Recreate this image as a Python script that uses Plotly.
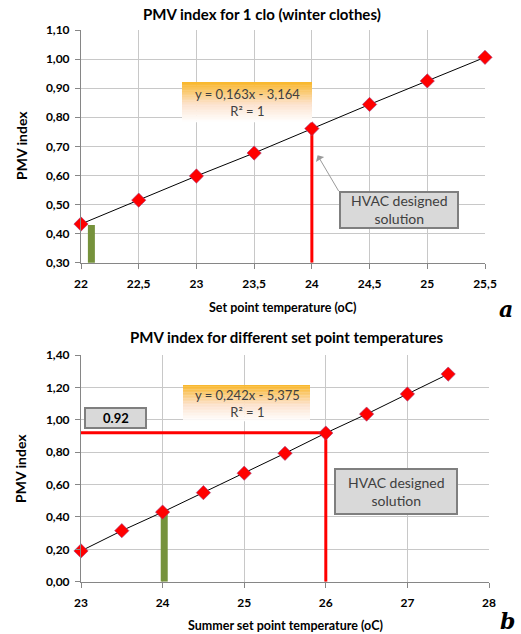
import plotly.graph_objects as go

W, H = 521, 634

# ---------------- data ----------------
temp_a = [22, 22.5, 23, 23.5, 24, 24.5, 25, 25.5]
pmv_a = [0.433, 0.515, 0.598, 0.677, 0.761, 0.844, 0.925, 1.006]
green_a_x = [22.09, 22.09]
green_a_y = [0.285, 0.43]
design_a_x = 24
design_a_y = 0.761

temp_b = [23, 23.5, 24, 24.5, 25, 25.5, 26, 26.5, 27, 27.5]
pmv_b = [0.19, 0.315, 0.43, 0.55, 0.67, 0.793, 0.918, 1.035, 1.159, 1.282]
green_b_x = [24.02, 24.02]
green_b_y = [0.0, 0.44]
design_b_x = 26
design_b_y = 0.92

title_a = "PMV index for 1 clo (winter clothes)"
title_b = "PMV index for different set point temperatures"
xtitle_a = "Set point temperature (oC)"
xtitle_b = "Summer set point temperature (oC)"
ytitle = "PMV index"
eq_a = "y = 0,163x - 3,164<br>R² = 1"
eq_b = "y = 0,242x - 5,375<br>R² = 1"
hvac_text = "HVAC designed<br>solution"
label_b_value = "0.92"

FONT = "Lato"
RED = "#ff0000"
GREEN = "#76923c"
GRID = "#c8c8c8"

fig = go.Figure()

def add_series(x, y, xa, ya):
    fig.add_trace(go.Scatter(x=x, y=y, mode="lines", xaxis=xa, yaxis=ya,
                             line=dict(color="#000000", width=1), showlegend=False))
    fig.add_trace(go.Scatter(x=x, y=y, mode="markers", xaxis=xa, yaxis=ya,
                             marker=dict(symbol="diamond", size=11, color=RED,
                                         line=dict(color="#a04080", width=0.6)),
                             cliponaxis=False, showlegend=False))

# chart a
fig.add_trace(go.Scatter(x=green_a_x, y=green_a_y, mode="lines", xaxis="x", yaxis="y",
                         line=dict(color=GREEN, width=7), cliponaxis=False, showlegend=False))
fig.add_trace(go.Scatter(x=[design_a_x, design_a_x], y=[0.30, design_a_y], mode="lines",
                         xaxis="x", yaxis="y", line=dict(color=RED, width=3), showlegend=False))
add_series(temp_a, pmv_a, "x", "y")

# chart b
fig.add_trace(go.Scatter(x=green_b_x, y=green_b_y, mode="lines", xaxis="x2", yaxis="y2",
                         line=dict(color=GREEN, width=7), showlegend=False))
fig.add_trace(go.Scatter(x=[23, design_b_x, design_b_x], y=[design_b_y, design_b_y, 0.0],
                         mode="lines", xaxis="x2", yaxis="y2",
                         line=dict(color=RED, width=3), showlegend=False))
add_series(temp_b, pmv_b, "x2", "y2")

tickfont = dict(family=FONT, size=12, color="#000000", weight="bold")
axis_common = dict(showgrid=True, gridcolor=GRID, gridwidth=1, showline=True,
                   linecolor="#868686", linewidth=1, ticks="outside", ticklen=5,
                   tickcolor="#868686", tickfont=tickfont, zeroline=False, mirror=False,
                   automargin=False)

def px(x):
    return x / W

def py(y):
    return 1 - y / H

fig.update_layout(
    width=W, height=H, margin=dict(l=0, r=0, t=0, b=0, pad=0),
    paper_bgcolor="white", plot_bgcolor="white", separators=", ",
    xaxis=dict(domain=[px(81), px(485)], range=[22, 25.5], dtick=0.5, anchor="y",
               ticklabelstandoff=5, **axis_common),
    yaxis=dict(domain=[py(262.7), py(30)], range=[0.30, 1.10], dtick=0.1, tickformat=".2f",
               anchor="x", ticklabelstandoff=3, **axis_common),
    xaxis2=dict(domain=[px(81), px(489)], range=[23, 28], dtick=1, anchor="y2",
                ticklabelstandoff=5, **axis_common),
    yaxis2=dict(domain=[py(581.7), py(355)], range=[0, 1.40], dtick=0.2, tickformat=".2f",
                anchor="x2", ticklabelstandoff=3, **axis_common),
)

shapes = []
annotations = []

def gradient_box(x0, x1, y0, y1, n=24):
    top = (249, 182, 40)
    mid = (252, 226, 205)
    bot = (255, 255, 255)
    h = (y1 - y0) / n
    for i in range(n):
        t = (i + 0.5) / n
        if t < 0.55:
            u = t / 0.55
            c = [round(top[k] + (mid[k] - top[k]) * u) for k in range(3)]
        else:
            u = (t - 0.55) / 0.45
            c = [round(mid[k] + (bot[k] - mid[k]) * u) for k in range(3)]
        shapes.append(dict(type="rect", xref="paper", yref="paper",
                           x0=px(x0), x1=px(x1), y0=py(y0 + i * h), y1=py(y0 + (i + 1) * h + 0.3),
                           fillcolor="rgb(%d,%d,%d)" % tuple(c), line=dict(width=0), layer="above"))

gradient_box(182, 312, 82, 122)
gradient_box(183, 310, 385, 421)

def text(x, y, s, size, bold=False, italic=False, family=FONT, color="#000000", angle=0):
    annotations.append(dict(xref="paper", yref="paper", x=px(x), y=py(y), text=s,
                            showarrow=False, xanchor="center", yanchor="middle", textangle=angle,
                            font=dict(family=family, size=size, color=color,
                                      weight="bold" if bold else "normal",
                                      style="italic" if italic else "normal")))

text(262, 14, title_a, 15, bold=True)
text(287, 337, title_b, 15, bold=True)
text(21, 146, ytitle, 14, bold=True, angle=-90)
text(21, 469, ytitle, 14, bold=True, angle=-90)
text(282, 307, xtitle_a, 12.5, bold=True)
text(285, 625, xtitle_b, 12.5, bold=True)
text(506, 309, "a", 22, bold=True, italic=True, family="DejaVu Serif")
text(507, 621, "b", 22, bold=True, italic=True, family="DejaVu Serif")
text(247, 102, eq_a, 13, color="#404040")
text(247, 403, eq_b, 13, color="#404040")

def box(x0, x1, y0, y1, s, size, bold=False):
    shapes.append(dict(type="rect", xref="paper", yref="paper", x0=px(x0), x1=px(x1),
                       y0=py(y1), y1=py(y0), fillcolor="#d9d9d9",
                       line=dict(color="#7f7f7f", width=2), layer="above"))
    text((x0 + x1) / 2, (y0 + y1) / 2, s, size, bold=bold, color="#404040" if not bold else "#000000")

box(340, 458, 192, 228, hvac_text, 14)
box(335, 457, 469, 514, hvac_text, 14)
box(85, 146, 408, 428, label_b_value, 13, bold=True)

# arrow from HVAC box (a) to designed point
annotations.append(dict(xref="x", yref="y", axref="x", ayref="y",
                        x=24.05, y=0.669, ax=24.24, ay=0.541, text="",
                        showarrow=True, arrowhead=1, arrowsize=1.6, arrowwidth=1,
                        arrowcolor="#9a9a9a"))

fig.update_layout(shapes=shapes, annotations=annotations)
fig.write_html("out.html", config={"displayModeBar": False},
               post_script="document.body.style.margin='0';document.body.style.overflow='hidden';")
